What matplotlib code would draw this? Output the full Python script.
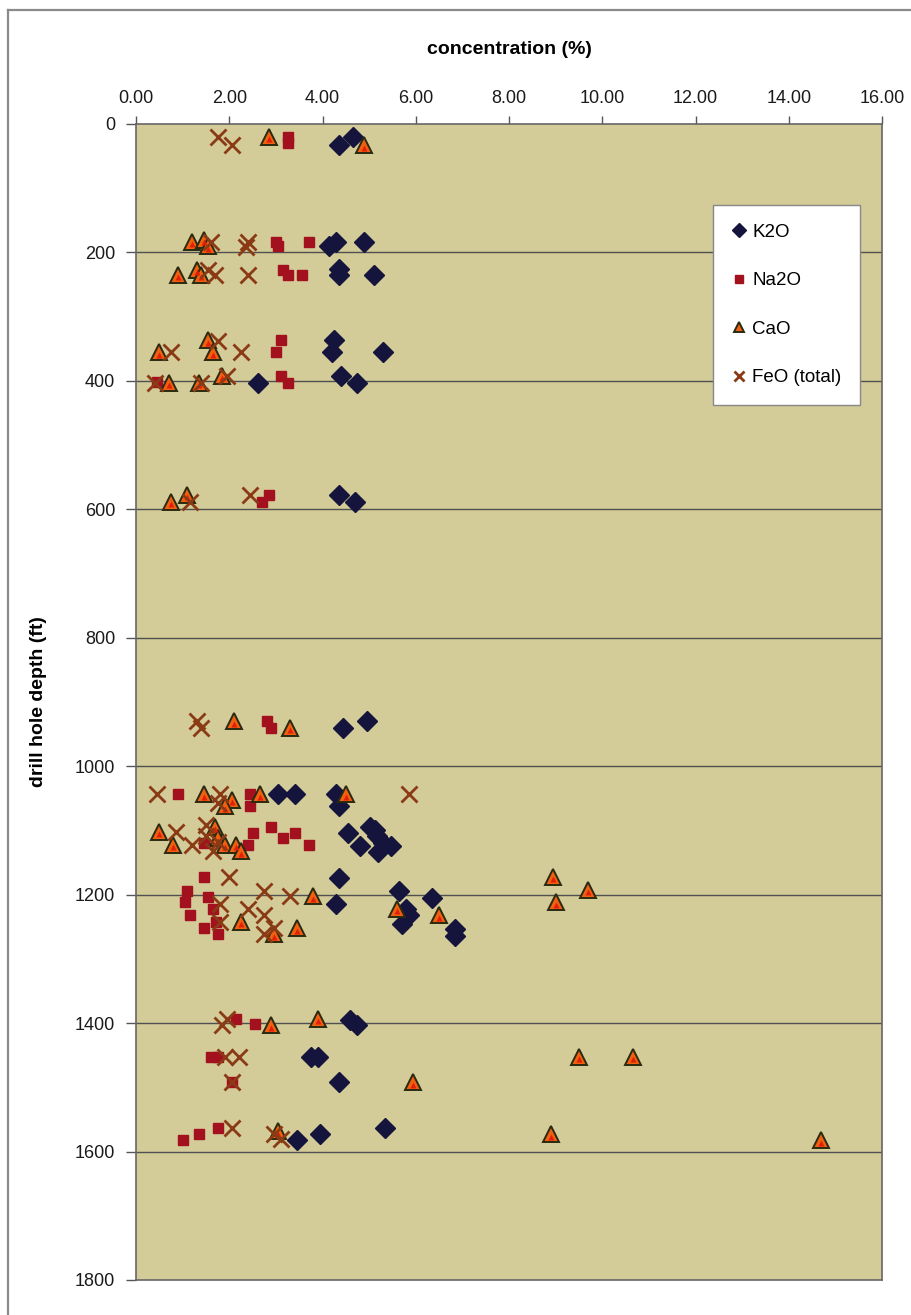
import matplotlib
matplotlib.use("Agg")
import matplotlib.pyplot as plt
from matplotlib.lines import Line2D

plt.rcParams['font.family'] = ['Liberation Sans', 'DejaVu Sans']

# concentration (%) and drill hole depth (ft) for each oxide
k2o_pct = [4.65, 4.35,
           4.15, 4.3, 4.9, 4.35, 4.35, 5.1,
           4.25, 4.2, 5.3, 2.62, 4.4, 4.75,
           4.35, 4.7,
           4.45, 4.95,
           3.05, 3.4, 4.3, 4.35, 4.55, 4.8, 5.02, 5.12, 5.17, 5.3, 5.47, 5.19,
           4.35, 4.3, 5.65, 6.35, 5.8, 5.85, 5.7, 6.85, 6.85,
           4.6, 4.75, 3.75, 3.9, 4.35,
           5.35, 3.95, 3.45]
k2o_depth = [20, 33,
             190, 183, 183, 226, 235, 235,
             337, 355, 355, 403, 392, 403,
             578, 588,
             940, 930,
             1044, 1044, 1044, 1062, 1104, 1124, 1094, 1100, 1108, 1120, 1124, 1133,
             1174, 1214, 1195, 1205, 1222, 1232, 1245, 1254, 1264,
             1395, 1403, 1452, 1452, 1492,
             1563, 1573, 1582]

na2o_pct = [3.25, 3.25,
            3.0, 3.05, 3.7, 3.15, 3.25, 3.55,
            3.1, 3.0, 0.45, 3.1, 3.25,
            2.85, 2.7,
            2.8, 2.9,
            0.9, 2.45, 2.45, 2.5, 2.9, 3.15, 3.4, 3.7, 2.4, 1.45,
            1.45, 1.1, 1.05, 1.55, 1.15, 1.65, 1.45, 1.75, 1.72,
            2.15, 2.55, 1.6, 1.75, 2.05,
            1.75, 1.35, 1.0]
na2o_depth = [20, 30,
              183, 190, 183, 227, 235, 235,
              337, 355, 402, 392, 403,
              577, 588,
              930, 940,
              1044, 1044, 1062, 1104, 1094, 1112, 1104, 1122, 1122, 1120,
              1172, 1195, 1212, 1204, 1232, 1222, 1252, 1262, 1242,
              1393, 1402, 1452, 1452, 1492,
              1563, 1573, 1582]

cao_pct = [2.85, 4.9,
           1.2, 1.45, 1.55, 0.9, 1.3, 1.4,
           0.5, 1.55, 1.65, 0.7, 1.35, 1.85,
           1.1, 0.75,
           2.1, 3.3,
           1.45, 2.05, 1.9, 2.65, 4.5,
           0.5, 0.8, 1.7, 1.75, 1.9, 2.15, 2.25,
           8.95, 9.7, 9.0, 3.8, 5.6, 6.5, 2.25, 3.45, 2.95,
           3.9, 2.9, 9.5, 10.65, 5.95,
           3.05, 8.9, 14.7]
cao_depth = [20, 33,
             183, 180, 190, 235, 227, 235,
             355, 337, 355, 403, 403, 392,
             577, 588,
             930, 940,
             1044, 1052, 1062, 1044, 1044,
             1102, 1122, 1094, 1112, 1122, 1122, 1132,
             1172, 1192, 1212, 1202, 1222, 1232, 1242, 1252, 1262,
             1393, 1403, 1452, 1452, 1492,
             1568, 1573, 1582]

feo_pct = [1.75, 2.05,
           1.6, 2.4, 2.35, 1.55, 1.7, 2.4,
           0.75, 1.75, 2.25, 0.4, 1.4, 1.95,
           2.45, 1.15,
           1.3, 1.4,
           0.45, 1.8, 1.75, 5.85,
           0.85, 1.5, 1.2, 1.65, 1.75, 1.5,
           2.0, 2.75, 3.3, 1.8, 2.4, 2.75, 1.8, 2.95, 2.75,
           1.95, 1.85, 1.9, 2.2, 2.05,
           2.05, 2.95, 3.1]
feo_depth = [20, 32,
             183, 183, 192, 227, 235, 235,
             355, 338, 355, 403, 403, 392,
             577, 588,
             930, 940,
             1044, 1044, 1058, 1044,
             1102, 1092, 1122, 1132, 1118, 1108,
             1172, 1195, 1202, 1214, 1222, 1232, 1243, 1252, 1262,
             1393, 1403, 1452, 1452, 1492,
             1563, 1572, 1580]

x_ticks = [0, 2, 4, 6, 8, 10, 12, 14, 16]
y_ticks = [0, 200, 400, 600, 800, 1000, 1200, 1400, 1600, 1800]

fig = plt.figure(figsize=(9.12, 13.15), dpi=100, facecolor='white')
ax = fig.add_axes([136 / 912, 1 - 1280 / 1315, 746 / 912, 1156 / 1315])
ax.set_facecolor('#D3CB98')

# outer chart frame
fig.add_artist(Line2D([8 / 912, 8 / 912], [0, 1 - 10 / 1315], transform=fig.transFigure,
                      color='#8a8a8a', lw=1.6))
fig.add_artist(Line2D([8 / 912, 1], [1 - 10 / 1315, 1 - 10 / 1315], transform=fig.transFigure,
                      color='#8a8a8a', lw=1.6))

ax.set_xlim(0, 16)
ax.set_ylim(1800, 0)

for d in y_ticks[1:-1]:
    ax.axhline(d, color='#505050', lw=1.0, zorder=1)

ax.plot(k2o_pct, k2o_depth, linestyle='none', marker='D', ms=10.5,
        mfc='#14143C', mec='#14143C', label='K2O', zorder=3)
ax.plot(na2o_pct, na2o_depth, linestyle='none', marker='s', ms=7.5,
        mfc='#A3101E', mec='#A3101E', label='Na2O', zorder=3)
ax.plot(cao_pct, cao_depth, linestyle='none', marker='^', ms=11,
        mfc='#F06010', mec='#2A2A10', mew=1.4, label='CaO', zorder=4)
ax.plot(cao_pct, [d + 4 for d in cao_depth], linestyle='none', marker='^', ms=5,
        mfc='#E0200A', mec='none', zorder=4)
ax.plot(feo_pct, feo_depth, linestyle='none', marker='x', ms=11, mew=2.0,
        color='#8A3A14', label='FeO (total)', zorder=5)

ax.xaxis.tick_top()
ax.xaxis.set_label_position('top')
ax.set_xticks(x_ticks)
ax.set_xticklabels([f'{v:.2f}' for v in x_ticks])
ax.set_yticks(y_ticks)
ax.set_yticklabels([str(v) for v in y_ticks])
ax.tick_params(axis='x', direction='out', length=6, width=1, color='#555555',
               labelsize=13, pad=6, labelcolor='#1a1a1a')
ax.tick_params(axis='y', direction='out', length=7, width=1, color='#555555',
               labelsize=13, pad=8, labelcolor='#1a1a1a')
for s in ax.spines.values():
    s.set_color('#666666')
    s.set_linewidth(1.2)

ax.set_xlabel('concentration (%)', fontsize=14, fontweight='bold', labelpad=26)
ax.set_ylabel('drill hole depth (ft)', fontsize=14, fontweight='bold', labelpad=20)

leg = ax.legend(loc='upper left', bbox_to_anchor=(0.7735, 0.930), borderaxespad=0,
                fontsize=13.5, frameon=True, fancybox=False, edgecolor='#888888',
                facecolor='white', framealpha=1.0, markerscale=0.7, handlelength=0.8,
                handletextpad=0.3, labelspacing=1.67, borderpad=1.0, numpoints=1)
leg.get_frame().set_linewidth(1.0)
leg.set_zorder(10)

fig.savefig('out.png', dpi=100, facecolor='white')
